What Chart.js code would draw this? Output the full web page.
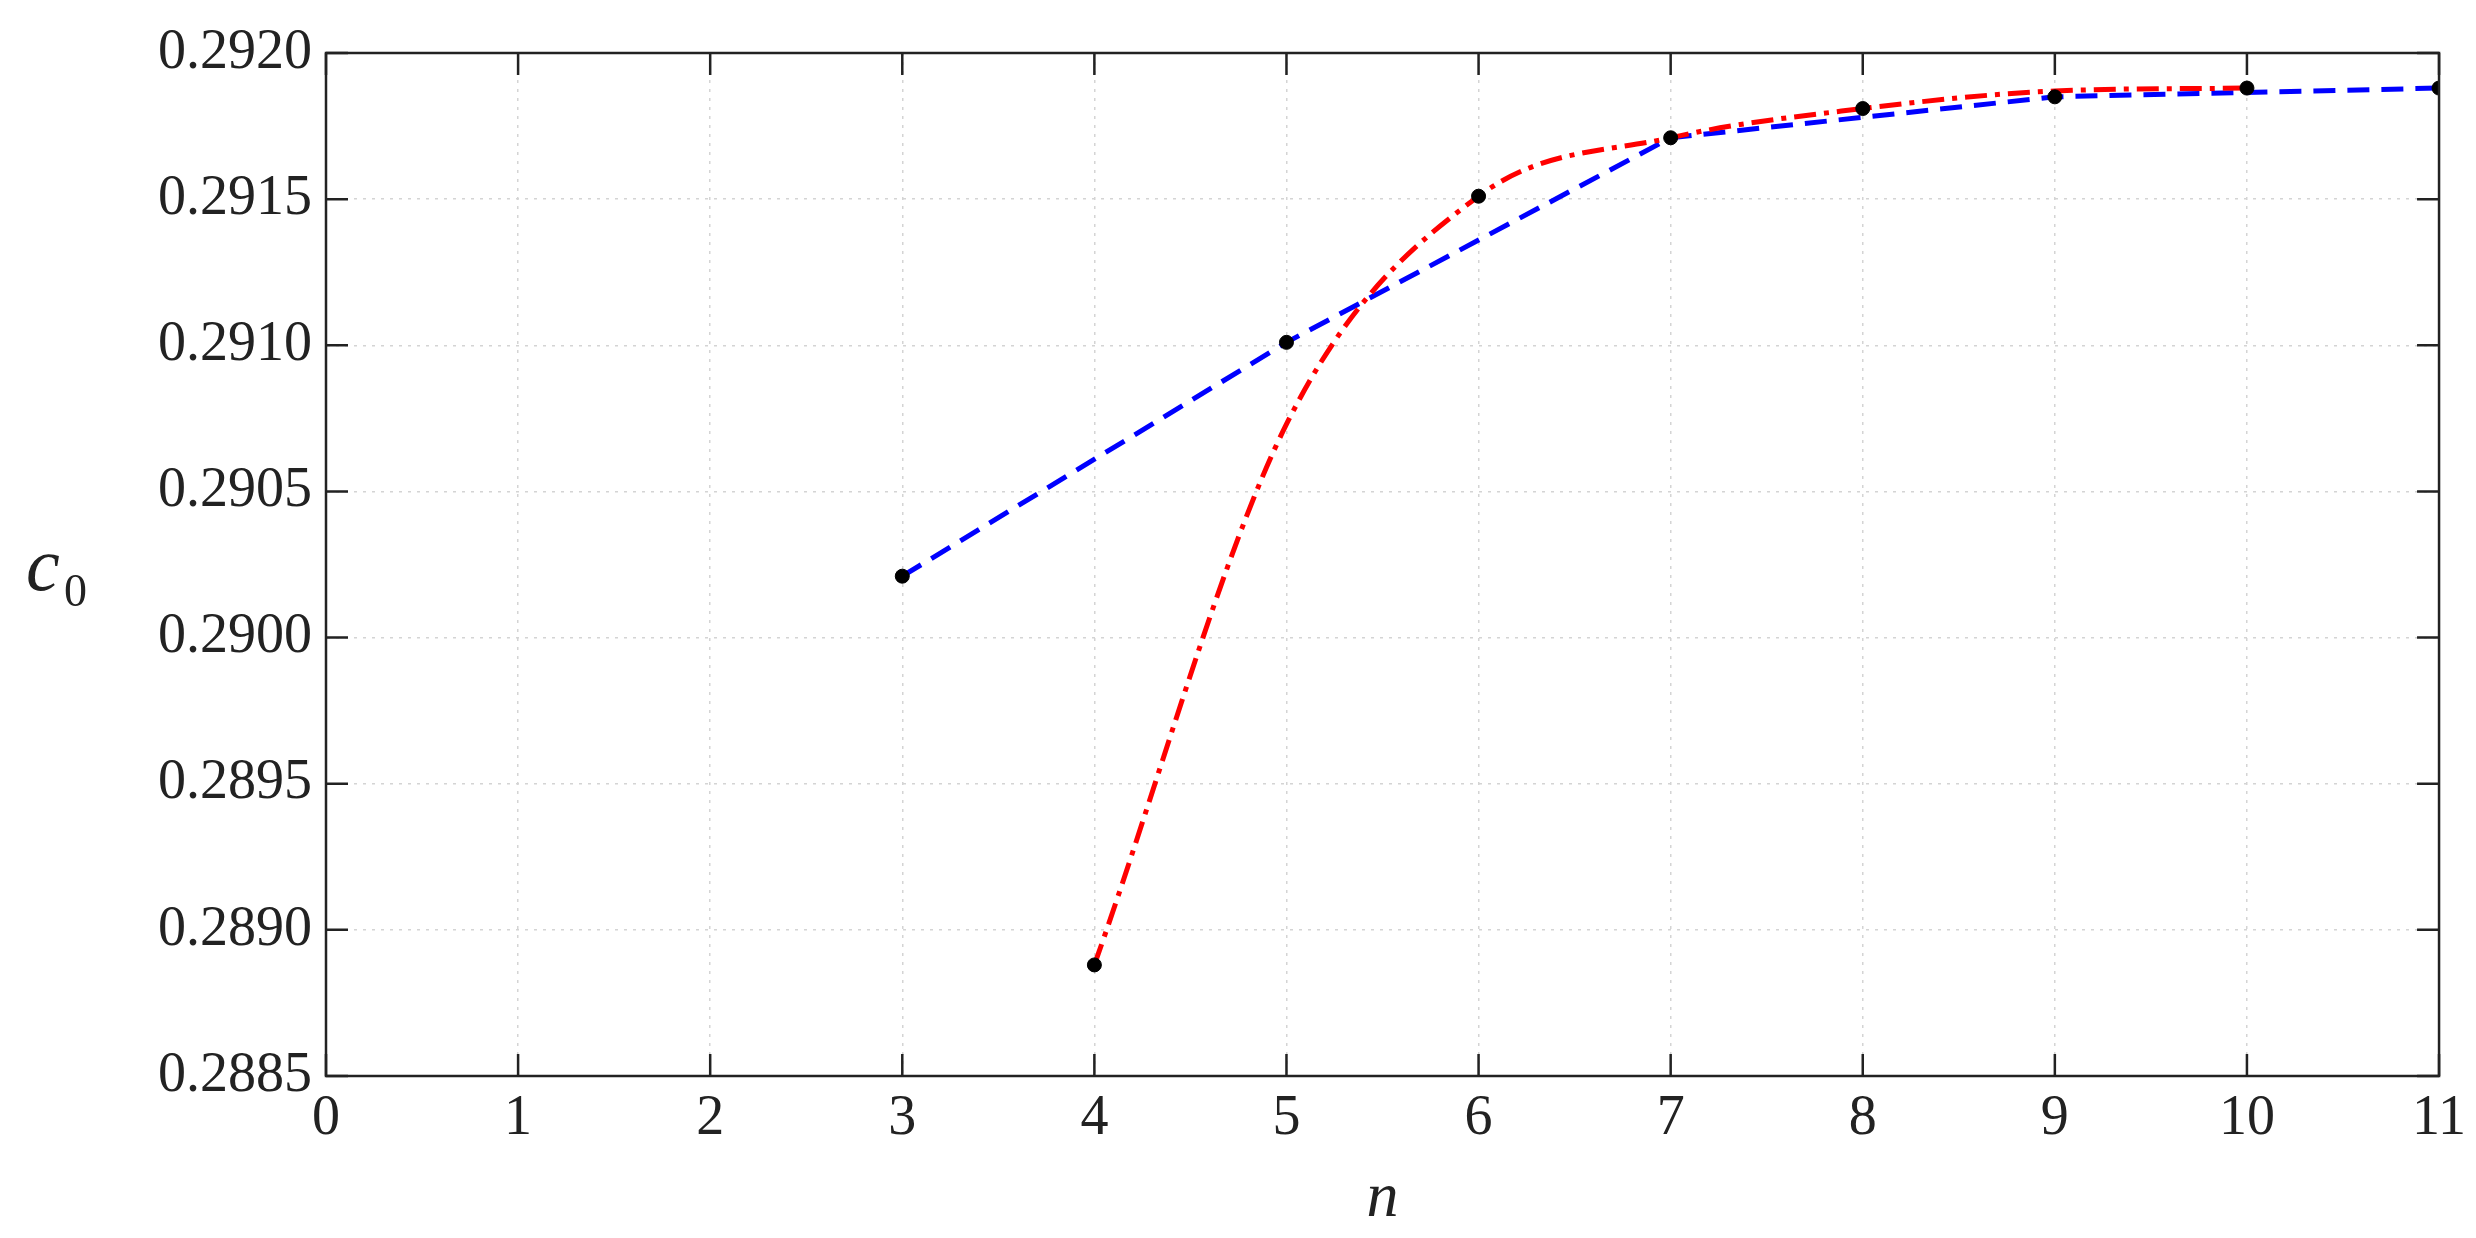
<!DOCTYPE html>
<html><head><meta charset="utf-8">
<script src="https://cdn.jsdelivr.net/npm/chart.js@4"></script>
<style>body{margin:0;background:#fff}</style>
</head><body>
<canvas id="c" width="2476" height="1238"></canvas>
<script>
// values
const dotN = [3, 4, 5, 6, 7, 8, 9, 10, 11];
const dotC = [0.29021, 0.28888, 0.29101, 0.29151, 0.29171, 0.29181, 0.29185, 0.29188, 0.29188];
const blueN = [3, 5, 7, 9, 11];
const blueC = [0.29021, 0.29101, 0.29171, 0.29185, 0.29188];
const redN = [4, 5, 6, 7, 8, 9, 10];
const redC = [0.28888, 0.29073, 0.29151, 0.29171, 0.29181, 0.29187, 0.29188];
const yTicks = [0.2885, 0.2890, 0.2895, 0.2900, 0.2905, 0.2910, 0.2915, 0.2920];

const pts = (xs, ys) => xs.map((x, i) => ({x: x, y: ys[i]}));
const font = 'Liberation Serif, Times New Roman, serif';

// inward ticks on all four sides, box, and y title
const frame = {
    id: 'frame',
    afterDraw(chart) {
        const ctx = chart.ctx, a = chart.chartArea;
        const xs = chart.scales.x, ys = chart.scales.y;
        ctx.save();
        ctx.strokeStyle = '#222';
        ctx.lineWidth = 2.5;
        ctx.strokeRect(a.left, a.top, a.right - a.left, a.bottom - a.top);
        for (let v = 0; v <= 11; v++) {
            const p = xs.getPixelForValue(v);
            ctx.beginPath();
            ctx.moveTo(p, a.bottom); ctx.lineTo(p, a.bottom - 22);
            ctx.moveTo(p, a.top); ctx.lineTo(p, a.top + 22);
            ctx.stroke();
        }
        yTicks.forEach(v => {
            const p = ys.getPixelForValue(v);
            ctx.beginPath();
            ctx.moveTo(a.left, p); ctx.lineTo(a.left + 22, p);
            ctx.moveTo(a.right, p); ctx.lineTo(a.right - 22, p);
            ctx.stroke();
        });
        ctx.fillStyle = '#222';
        ctx.font = 'italic 76px ' + font;
        ctx.textBaseline = 'alphabetic';
        ctx.fillText('c', 26, 590);
        ctx.font = '46px ' + font;
        ctx.fillText('0', 64, 606);
        ctx.restore();
    }
};

const gridOpts = {color: '#d4d4d4', lineWidth: 1.5, tickLength: 0};

new Chart(document.getElementById('c'), {
    type: 'scatter',
    data: {
        datasets: [
            {
                data: pts(blueN, blueC), showLine: true, borderColor: '#0000ff',
                borderWidth: 5, borderDash: [22, 12], pointRadius: 0, tension: 0, order: 2
            },
            {
                data: pts(redN, redC), showLine: true, borderColor: '#ff0000',
                borderWidth: 5, borderDash: [22, 8, 5, 8], pointRadius: 0,
                cubicInterpolationMode: 'monotone', order: 1
            },
            {
                data: pts(dotN, dotC), backgroundColor: '#000', borderColor: '#000',
                pointRadius: 7, order: 0
            }
        ]
    },
    options: {
        responsive: false,
        animation: false,
        layout: {padding: {top: 53, right: 24, left: 0, bottom: 0}},
        plugins: {legend: {display: false}, tooltip: {enabled: false}},
        scales: {
            x: {
                type: 'linear', min: 0, max: 11,
                afterFit: s => { s.height = 162; },
                ticks: {stepSize: 1, color: '#222', font: {family: font, size: 56}, padding: 10},
                grid: gridOpts,
                border: {display: true, color: 'rgba(0,0,0,0)', dash: [3, 6]},
                title: {display: true, text: 'n', color: '#222', font: {family: font, size: 64, style: 'italic'}, padding: 0}
            },
            y: {
                min: 0.2885, max: 0.2920,
                afterFit: s => { s.width = 326; },
                afterBuildTicks: s => { s.ticks = yTicks.map(v => ({value: v})); },
                ticks: {color: '#222', font: {family: font, size: 56}, padding: 14,
                    callback: v => v.toFixed(4)},
                grid: gridOpts,
                border: {display: true, color: 'rgba(0,0,0,0)', dash: [3, 6]}
            }
        }
    },
    plugins: [frame]
});
</script>
</body></html>
